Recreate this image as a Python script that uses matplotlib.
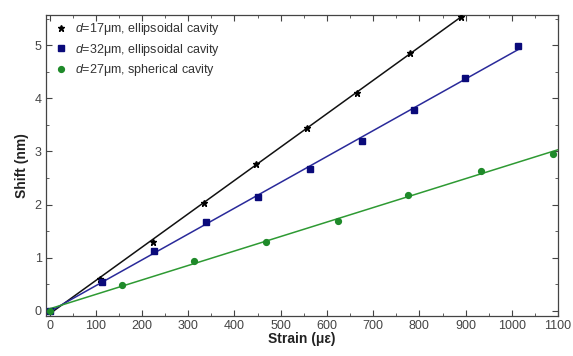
import numpy as np
import matplotlib.pyplot as plt
from matplotlib.ticker import MultipleLocator

plt.rcParams['font.family'] = ['Liberation Sans', 'DejaVu Sans']
plt.rcParams['mathtext.fontset'] = 'custom'
plt.rcParams['mathtext.it'] = 'Liberation Sans:italic'
plt.rcParams['mathtext.rm'] = 'Liberation Sans'

# strain (micro-strain) vs wavelength shift (nm)
x_17 = [0, 110, 223, 334, 446, 556, 665, 780, 890]
y_17 = [0.0, 0.60, 1.29, 2.03, 2.77, 3.45, 4.11, 4.85, 5.53]

x_32 = [0, 113, 227, 339, 450, 563, 676, 788, 899, 1013]
y_32 = [0.0, 0.55, 1.12, 1.67, 2.14, 2.67, 3.20, 3.79, 4.39, 4.99]

x_27 = [0, 156, 312, 468, 623, 775, 933, 1089]
y_27 = [0.0, 0.48, 0.93, 1.29, 1.70, 2.18, 2.63, 2.95]

labels = [r'$d$=17μm, ellipsoidal cavity',
          r'$d$=32μm, ellipsoidal cavity',
          r'$d$=27μm, spherical cavity']

fig = plt.figure(figsize=(5.73, 3.56), dpi=100)
ax = fig.add_axes([0.080, 0.112, 0.894, 0.846])

series = [
    (x_17, y_17, '*', 'black', '#111111', 4.5, max(x_17)),
    (x_32, y_32, 's', '#0a0a7a', '#2a2a9a', 4.0, max(x_32)),
    (x_27, y_27, 'o', '#1f8a2a', '#2e9a33', 4.2, 1100),
]

for (xs, ys, mk, mc, lc, ms, xend), lab in zip(series, labels):
    # linear fit through the measured points
    k, b = np.polyfit(xs, ys, 1)
    xf = np.array([0, xend])
    ax.plot(xf, k * xf + b, color=lc, lw=1.1, zorder=2)
    ax.plot(xs, ys, mk, color=mc, ms=ms, ls='none', label=lab, zorder=3)

ax.set_xlim(-8, 1100)
ax.set_ylim(-0.1, 5.57)
ax.xaxis.set_major_locator(MultipleLocator(100))
ax.xaxis.set_minor_locator(MultipleLocator(50))
ax.yaxis.set_major_locator(MultipleLocator(1))
ax.yaxis.set_minor_locator(MultipleLocator(0.5))
ax.tick_params(which='both', direction='in', top=True, right=True,
               labelsize=9, colors='#444444', labelcolor='#444444')
ax.tick_params(which='major', length=4, pad=3)
ax.tick_params(which='minor', length=2.5)
for s in ax.spines.values():
    s.set_color('#444444')
    s.set_linewidth(0.9)

ax.set_xlabel('Strain (με)', fontsize=10, fontweight='bold', labelpad=0,
              color='#222222')
ax.set_ylabel('Shift (nm)', fontsize=10, fontweight='bold', labelpad=4,
              color='#222222')

ax.legend(loc='upper left', frameon=False, fontsize=9, handletextpad=0.4,
          labelspacing=0.35, borderaxespad=0.1, handlelength=1.4,
          labelcolor='#333333')

fig.savefig('out.png', dpi=100)
